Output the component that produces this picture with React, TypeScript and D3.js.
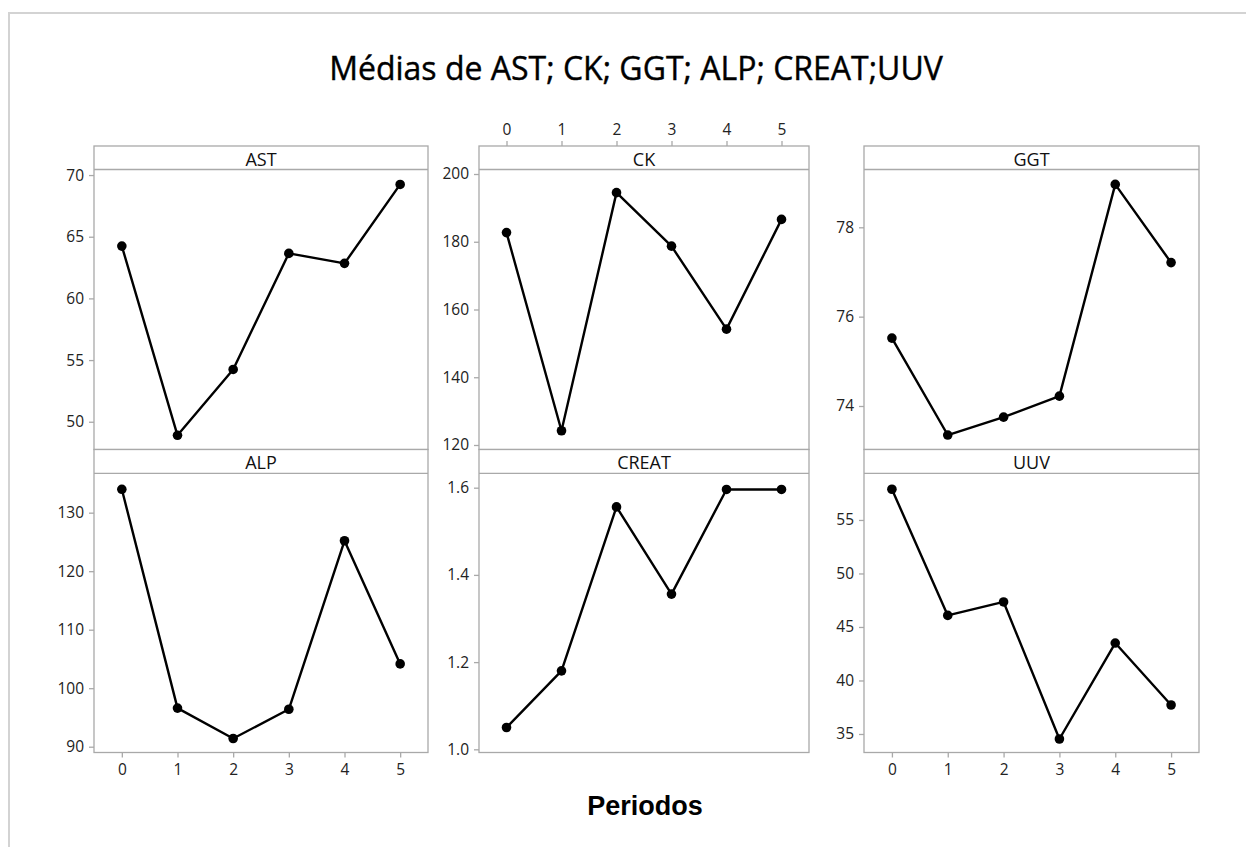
import React, { useEffect, useRef } from 'react';
import * as d3 from 'd3';

// Sampling periods shared by every panel
const periods = [0, 1, 2, 3, 4, 5];

// Mean value of each analyte per period
const astMeans = [64.24, 48.9, 54.24, 63.65, 62.84, 69.24];
const ckMeans = [182.7, 124.2, 194.5, 178.7, 154.2, 186.6];
const ggtMeans = [75.52, 73.35, 73.75, 74.22, 78.96, 77.21];
const alpMeans = [134.0, 96.6, 91.4, 96.4, 125.2, 104.15];
const creatMeans = [1.05, 1.18, 1.556, 1.356, 1.596, 1.596];
const uuvMeans = [57.87, 46.08, 47.34, 34.53, 43.5, 37.71];

// Y axis ticks per panel
const astTicks = [50, 55, 60, 65, 70];
const ckTicks = [120, 140, 160, 180, 200];
const ggtTicks = [74, 76, 78];
const alpTicks = [90, 100, 110, 120, 130];
const creatTicks = [1.0, 1.2, 1.4, 1.6];
const uuvTicks = [35, 40, 45, 50, 55];

// Y domains (data range plus padding)
const astDomain = [47.75, 70.45];
const ckDomain = [118.67, 201.33];
const ggtDomain = [73.026, 79.294];
const alpDomain = [89.01, 136.73];
const creatDomain = [0.9927, 1.633];
const uuvDomain = [33.27, 59.36];

const chartTitle = 'Médias de AST; CK; GGT; ALP; CREAT;UUV';
const xTitle = 'Periodos';

type Panel = {
  label: string;
  values: number[];
  domain: number[];
  ticks: number[];
  fmt: string;
  col: number;
  row: number;
  xAxis: 'top' | 'bottom' | null;
};

const panels: Panel[] = [
  { label: 'AST', values: astMeans, domain: astDomain, ticks: astTicks, fmt: 'd', col: 0, row: 0, xAxis: null },
  { label: 'CK', values: ckMeans, domain: ckDomain, ticks: ckTicks, fmt: 'd', col: 1, row: 0, xAxis: 'top' },
  { label: 'GGT', values: ggtMeans, domain: ggtDomain, ticks: ggtTicks, fmt: 'd', col: 2, row: 0, xAxis: null },
  { label: 'ALP', values: alpMeans, domain: alpDomain, ticks: alpTicks, fmt: 'd', col: 0, row: 1, xAxis: 'bottom' },
  { label: 'CREAT', values: creatMeans, domain: creatDomain, ticks: creatTicks, fmt: '.1f', col: 1, row: 1, xAxis: null },
  { label: 'UUV', values: uuvMeans, domain: uuvDomain, ticks: uuvTicks, fmt: 'd', col: 2, row: 1, xAxis: 'bottom' },
];

const W = 1246;
const H = 847;
const colX = [
  [94, 428],
  [479, 809],
  [864, 1199],
];
const rowY = [
  { top: 146, strip: 169.5, bottom: 449.5 },
  { top: 449.5, strip: 473.3, bottom: 752.5 },
];

const frameColor = '#a9a9a9';
const labelFont = "'Open Sans', sans-serif";

export default function App() {
  const ref = useRef<SVGSVGElement | null>(null);

  useEffect(() => {
    const svg = d3.select(ref.current);
    svg.selectAll('*').remove();

    // outer frame
    svg
      .append('rect')
      .attr('x', 9)
      .attr('y', 13)
      .attr('width', W + 20)
      .attr('height', H + 20)
      .attr('fill', '#fff')
      .attr('stroke', '#d3d3d3')
      .attr('stroke-width', 2);

    svg
      .append('text')
      .attr('x', 636)
      .attr('y', 80)
      .attr('text-anchor', 'middle')
      .attr('font-family', labelFont)
      .attr('font-size', 32)
      .attr('fill', '#000')
      .attr('stroke', '#000')
      .attr('stroke-width', 0.4)
      .text(chartTitle);

    svg
      .append('text')
      .attr('x', 645)
      .attr('y', 815)
      .attr('text-anchor', 'middle')
      .attr('font-family', "'Liberation Sans', Arial, sans-serif")
      .attr('font-weight', 'bold')
      .attr('font-size', 27)
      .attr('fill', '#000')
      .text(xTitle);

    panels.forEach((p) => {
      const [x0, x1] = colX[p.col];
      const r = rowY[p.row];
      const g = svg.append('g');

      const x = d3.scaleLinear().domain([-0.5, 5.5]).range([x0, x1]);
      const y = d3.scaleLinear().domain(p.domain).range([r.bottom, r.strip]);

      // panel box and strip
      g.append('rect')
        .attr('x', x0)
        .attr('y', r.top)
        .attr('width', x1 - x0)
        .attr('height', r.bottom - r.top)
        .attr('fill', '#fff')
        .attr('stroke', frameColor)
        .attr('stroke-width', 1.3);
      g.append('line')
        .attr('x1', x0)
        .attr('x2', x1)
        .attr('y1', r.strip)
        .attr('y2', r.strip)
        .attr('stroke', frameColor)
        .attr('stroke-width', 1.3);
      g.append('text')
        .attr('x', (x0 + x1) / 2)
        .attr('y', (r.top + r.strip) / 2 + 1)
        .attr('text-anchor', 'middle')
        .attr('dominant-baseline', 'central')
        .attr('font-family', labelFont)
        .attr('font-size', 18)
        .attr('fill', '#111')
        .text(p.label);

      // y axis
      const yAxis = d3
        .axisLeft(y)
        .tickValues(p.ticks)
        .tickSize(5)
        .tickPadding(5)
        .tickFormat(d3.format(p.fmt) as any);
      const ya = g.append('g').attr('transform', `translate(${x0},0)`).call(yAxis);
      ya.select('.domain').remove();
      ya.selectAll('line').attr('stroke', frameColor).attr('stroke-width', 1.3);
      ya.selectAll('text')
        .attr('font-family', labelFont)
        .attr('font-size', 15.5)
        .attr('fill', '#222');

      // x axis (top or bottom, alternating)
      if (p.xAxis) {
        const axis = p.xAxis === 'top' ? d3.axisTop(x) : d3.axisBottom(x);
        axis.tickValues(periods).tickSize(5).tickPadding(6).tickFormat(d3.format('d') as any);
        const xa = g
          .append('g')
          .attr('transform', `translate(0,${p.xAxis === 'top' ? r.top : r.bottom})`)
          .call(axis);
        xa.select('.domain').remove();
        xa.selectAll('line').attr('stroke', frameColor).attr('stroke-width', 1.3);
        xa.selectAll('text')
          .attr('font-family', labelFont)
          .attr('font-size', 15.5)
          .attr('fill', '#222');
      }

      const pts = periods.map((d, i) => [d, p.values[i]] as [number, number]);
      const line = d3
        .line<[number, number]>()
        .x((d) => x(d[0]))
        .y((d) => y(d[1]));
      g.append('path')
        .attr('d', line(pts) as string)
        .attr('fill', 'none')
        .attr('stroke', '#000')
        .attr('stroke-width', 2.4)
        .attr('stroke-linejoin', 'round');
      g.selectAll('circle.pt')
        .data(pts)
        .enter()
        .append('circle')
        .attr('class', 'pt')
        .attr('cx', (d) => x(d[0]))
        .attr('cy', (d) => y(d[1]))
        .attr('r', 4.8)
        .attr('fill', '#000');
    });
  }, []);

  return (
    <svg
      ref={ref}
      width={W}
      height={H}
      style={{ position: 'absolute', left: 0, top: 0, background: '#fff' }}
    />
  );
}
